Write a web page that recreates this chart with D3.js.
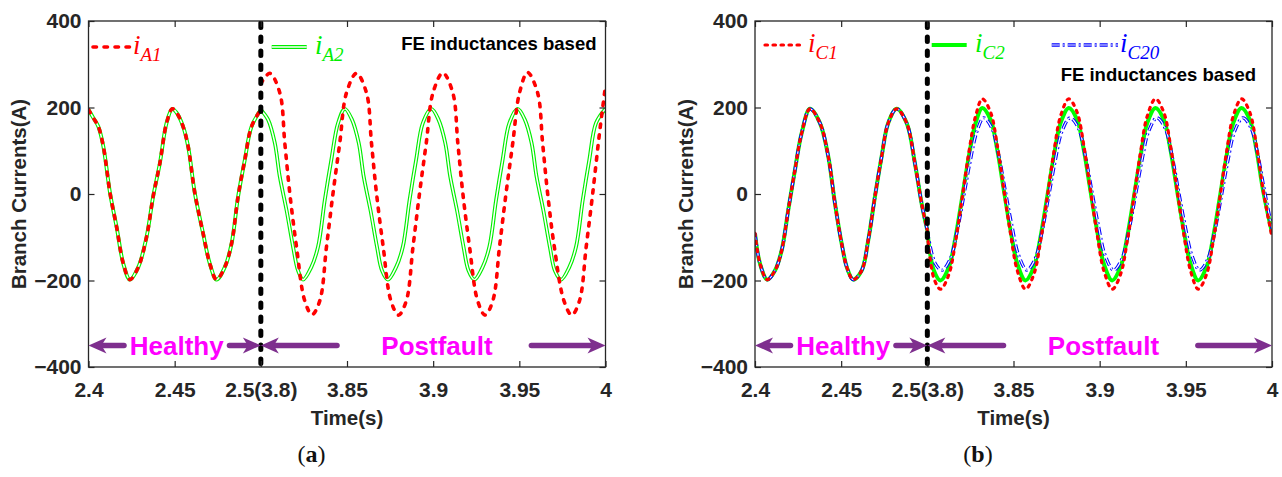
<!DOCTYPE html>
<html>
<head>
<meta charset="utf-8">
<script src="https://cdn.jsdelivr.net/npm/d3@7"></script>
<style>
  body { margin: 0; background: #fff; }
  svg { display: block; font-family: "Liberation Sans", Arial, sans-serif; }
</style>
</head>
<body>
<div id="app"></div>
<script>
// axis ticks
const xTicks = [2.4, 2.45, 2.5, 3.85, 3.9, 3.95, 4];
const yTicks = [-400, -200, 0, 200, 400];
const timeBreaks = [2.4, 2.5, 3.8, 4.0];

// panel (a): healthy part is shared by iA1 and iA2
const healthyA = [[2.4,195],[2.4028,176],[2.4057,156],[2.4086,110],[2.4125,2],[2.4163,-76],[2.4202,-161],[2.424,-198],
  [2.4289,-169],[2.4337,-99],[2.4375,-6],[2.4414,71],[2.4453,164],[2.4486,197],[2.4511,188],[2.4549,156],[2.4578,110],
  [2.4617,2],[2.4665,-91],[2.4704,-161],[2.4743,-198],[2.4791,-169],[2.483,-115],[2.4868,-6],[2.4907,79],[2.4946,156],[2.5,195]];

const faultA1 = [[3.8,255],[3.8052,279],[3.811,234],[3.8139,118],[3.8168,2],[3.8207,-122],[3.8255,-247],[3.8297,-279],
  [3.8342,-247],[3.8381,-122],[3.8419,2],[3.8458,118],[3.8497,234],[3.8555,279],
  [3.8613,234],[3.8642,118],[3.8671,2],[3.871,-122],[3.8755,-247],[3.8799,-280],[3.8844,-247],[3.8883,-122],[3.8921,2],
  [3.896,118],[3.8999,234],[3.9056,280],
  [3.9114,234],[3.9143,118],[3.9172,2],[3.9211,-122],[3.9258,-247],[3.9301,-280],[3.9346,-247],[3.9385,-122],[3.9423,2],
  [3.9462,118],[3.9501,234],[3.9548,281],
  [3.9606,234],[3.9635,118],[3.9664,2],[3.9703,-122],[3.9759,-247],[3.9804,-280],[3.9849,-247],[3.9888,-122],[3.9926,2],
  [3.9965,140],[4.0,250]];

const faultA2 = [[3.8,195],[3.8042,172],[3.8081,118],[3.811,40],[3.8149,-37],[3.8187,-122],[3.8216,-177],[3.8245,-198],
  [3.8293,-169],[3.8332,-122],[3.8371,-14],[3.8409,79],[3.8448,164],[3.8487,197],
  [3.8529,172],[3.8568,118],[3.8597,40],[3.8636,-37],[3.8674,-122],[3.8703,-177],[3.8737,-198],[3.8785,-169],[3.8824,-122],
  [3.8863,-14],[3.8901,79],[3.894,164],[3.8989,197],
  [3.9031,172],[3.907,118],[3.9099,40],[3.9138,-37],[3.9176,-122],[3.9205,-177],[3.9239,-198],[3.9287,-169],[3.9326,-122],
  [3.9365,-14],[3.9403,79],[3.9442,164],[3.949,197],
  [3.9532,172],[3.9571,118],[3.96,40],[3.9639,-37],[3.9677,-122],[3.9706,-177],[3.9742,-198],[3.979,-169],[3.9829,-122],
  [3.9868,-14],[3.9906,79],[3.9945,164],[4.0,197]];

// panel (b): healthy part is shared by iC1, iC2 and iC20
const healthyB = [[2.4,-91],[2.4029,-161],[2.4071,-198],[2.4116,-177],[2.4155,-130],[2.4193,-37],[2.4232,56],[2.4271,141],
  [2.4319,197],[2.4377,164],[2.4425,87],[2.4464,-22],[2.4503,-115],[2.4535,-172],[2.457,-198],[2.4619,-177],[2.4657,-107],
  [2.4696,-6],[2.4735,87],[2.4773,164],[2.4822,197],[2.488,164],[2.4928,71],[2.4967,-22],[2.5,-84]];

const faultC1 = [[3.8,-92],[3.8038,-195],[3.8077,-220],[3.8125,-186],[3.8164,-109],[3.8203,-7],[3.8241,96],[3.828,180],
  [3.8319,220],[3.8367,189],[3.8406,112],[3.8444,10],[3.8483,-92],[3.8522,-177],[3.857,-220],
  [3.8618,-186],[3.8657,-109],[3.8696,-7],[3.8734,96],[3.8773,180],[3.8821,220],[3.8869,189],[3.8908,112],[3.8946,10],
  [3.8985,-92],[3.9024,-177],[3.9073,-220],
  [3.9121,-186],[3.916,-109],[3.9199,-7],[3.9237,96],[3.9276,180],[3.9324,220],[3.9372,189],[3.9411,112],[3.9449,10],
  [3.9488,-92],[3.9527,-177],[3.9572,-220],
  [3.962,-186],[3.9659,-109],[3.9698,-7],[3.9736,96],[3.9775,180],[3.9823,220],[3.9871,189],[3.991,112],[3.9948,10],[4.0,-100]];

const faultC2 = [[3.8,-84],[3.8038,-177],[3.8077,-200],[3.8125,-169],[3.8164,-99],[3.8203,-6],[3.8241,87],[3.828,164],
  [3.8319,199],[3.8367,172],[3.8406,102],[3.8444,9],[3.8483,-84],[3.8522,-161],[3.857,-200],
  [3.8618,-169],[3.8657,-99],[3.8696,-6],[3.8734,87],[3.8773,164],[3.8821,199],[3.8869,172],[3.8908,102],[3.8946,9],
  [3.8985,-84],[3.9024,-161],[3.9073,-200],
  [3.9121,-169],[3.916,-99],[3.9199,-6],[3.9237,87],[3.9276,164],[3.9324,199],[3.9372,172],[3.9411,102],[3.9449,9],
  [3.9488,-84],[3.9527,-161],[3.9572,-200],
  [3.962,-169],[3.9659,-99],[3.9698,-6],[3.9736,87],[3.9775,164],[3.9823,199],[3.9871,172],[3.991,102],[3.9948,9],[4.0,-90]];

const faultC20 = [[3.8,-85],[3.8045,-160],[3.8085,-176],[3.8133,-150],[3.8172,-88],[3.8211,-5],[3.8249,77],[3.8288,145],
  [3.8327,176],[3.8375,152],[3.8414,90],[3.8452,8],[3.8491,-74],[3.853,-142],[3.8578,-176],
  [3.8626,-150],[3.8665,-88],[3.8704,-5],[3.8742,77],[3.8781,145],[3.8829,176],[3.8877,152],[3.8916,90],[3.8954,8],
  [3.8993,-74],[3.9032,-142],[3.9081,-176],
  [3.9129,-150],[3.9168,-88],[3.9207,-5],[3.9245,77],[3.9284,145],[3.9332,176],[3.938,152],[3.9419,90],[3.9457,8],
  [3.9496,-74],[3.9535,-142],[3.958,-176],
  [3.9628,-150],[3.9667,-88],[3.9706,-5],[3.9744,77],[3.9783,145],[3.9831,176],[3.9879,152],[3.9918,90],[3.9956,8],[4.0,-80]];

// region arrows: [tip, shaft end], text position
const healthyArrows = [[2.4, 2.4206], [2.5, 2.4818]];
const faultArrows = [[3.8, 3.8442], [4.0, 3.957]];
const regionLabels = [["Healthy", 2.4512], ["Postfault", 3.9022]];
const arrowLevel = -350;

const width = 1282, height = 477;
const plotTop = 21, plotBottom = 367;

const styles = {
    redDash: [{ stroke: '#ff0000', w: 3.6, dash: '3.5,7.5', cap: 'round' }],
    greenDouble: [{ stroke: '#00ee00', w: 3.8 }, { stroke: '#ffffff', w: 1.5 }],
    redDot: [{ stroke: '#ff0000', w: 3.2, dash: '2.5,5.5', cap: 'round' }],
    greenSolid: [{ stroke: '#00ff00', w: 4 }],
    blueDashDot: [{ stroke: '#0000ff', w: 3.3, dash: '8,3,2,3' }, { stroke: '#ffffff', w: 1.2, dash: '8,3,2,3' }]
};

const panels = [
    {
        left: 88.5, right: 605.5, caption: 'a',
        series: [
            { parts: [healthyA, faultA2], style: 'greenDouble' },
            { parts: [healthyA, faultA1], style: 'redDash' }
        ],
        legend: [
            { x1: 4.5, x2: 41.5, tx: 44.5, style: 'redDash', sub: 'A1', color: '#ff0000' },
            { x1: 183.2, x2: 218.2, tx: 226.5, style: 'greenDouble', sub: 'A2', color: '#00ee00' }
        ],
        legendY: 47, noteX: 9, noteY: 50
    },
    {
        left: 755, right: 1272, caption: 'b',
        series: [
            { parts: [healthyB, faultC2], style: 'greenSolid' },
            { parts: [healthyB, faultC20], style: 'blueDashDot' },
            { parts: [healthyB, faultC1], style: 'redDot' }
        ],
        legend: [
            { x1: 10, x2: 46.7, tx: 53, style: 'redDot', sub: 'C1', color: '#ff0000' },
            { x1: 176.7, x2: 211.7, tx: 220, style: 'greenSolid', sub: 'C2', color: '#00ee00' },
            { x1: 296.7, x2: 363, tx: 365, style: 'blueDashDot', sub: 'C20', color: '#0000ff' }
        ],
        legendY: 45, noteX: 16, noteY: 81
    }
];

const svg = d3.select('#app')
    .append('svg')
    .attr('width', width)
    .attr('height', height);

svg.append('rect').attr('width', width).attr('height', height).attr('fill', '#fff');

const applyStyle = (sel, layer) => {
    sel.attr('fill', 'none')
        .attr('stroke', layer.stroke)
        .attr('stroke-width', layer.w)
        .attr('stroke-dasharray', layer.dash || null)
        .attr('stroke-linecap', layer.cap || 'butt')
        .attr('stroke-linejoin', 'round');
};

const drawPanel = (p, idx) => {
    const g = svg.append('g');
    const mid = p.left + (p.right - p.left) / 3;

    const x = d3.scaleLinear()
        .domain(timeBreaks)
        .range([p.left, mid, mid, p.right]);

    const y = d3.scaleLinear()
        .domain([-400, 400])
        .range([plotBottom, plotTop]);

    const clipId = 'clip' + idx;
    svg.append('clipPath').attr('id', clipId)
        .append('rect')
        .attr('x', p.left).attr('y', plotTop)
        .attr('width', p.right - p.left).attr('height', plotBottom - plotTop);

    const line = d3.line()
        .x(d => x(d[0]))
        .y(d => y(d[1]))
        .curve(d3.curveCatmullRom.alpha(0.5));

    const plot = g.append('g').attr('clip-path', `url(#${clipId})`);

    p.series.forEach(s => {
        styles[s.style].forEach(layer => {
            s.parts.forEach(part => {
                plot.append('path')
                    .attr('d', line(part))
                    .call(applyStyle, layer);
            });
        });
    });

    // fault instant
    plot.append('line')
        .attr('x1', x(2.5)).attr('x2', x(2.5))
        .attr('y1', plotTop + 2).attr('y2', plotBottom - 2)
        .attr('stroke', '#000')
        .attr('stroke-width', 5)
        .attr('stroke-dasharray', '4.5,9.5')
        .attr('stroke-linecap', 'round');

    // axes
    const axisColor = '#262626';
    const fmt = d => d === 2.5 ? '2.5(3.8)' : String(d);

    const styleAxis = a => {
        a.select('.domain').remove();
        a.selectAll('.tick line').attr('stroke', axisColor).attr('stroke-width', 1.2);
        a.selectAll('.tick text')
            .attr('fill', axisColor)
            .style('font-size', '21px')
            .style('font-weight', 'bold')
            .style('font-family', '"Liberation Sans", Arial, sans-serif');
    };

    g.append('g')
        .attr('transform', `translate(0,${plotBottom})`)
        .call(d3.axisBottom(x).tickValues(xTicks).tickFormat(fmt).tickSize(-6).tickSizeOuter(0).tickPadding(15))
        .call(styleAxis);

    g.append('g')
        .attr('transform', `translate(0,${plotTop})`)
        .call(d3.axisTop(x).tickValues(xTicks).tickFormat('').tickSize(-6).tickSizeOuter(0))
        .call(styleAxis);

    g.append('g')
        .attr('transform', `translate(${p.left},0)`)
        .call(d3.axisLeft(y).tickValues(yTicks).tickSize(-6).tickSizeOuter(0).tickPadding(7))
        .call(styleAxis);

    g.append('g')
        .attr('transform', `translate(${p.right},0)`)
        .call(d3.axisRight(y).tickValues(yTicks).tickFormat('').tickSize(-6).tickSizeOuter(0))
        .call(styleAxis);

    g.append('rect')
        .attr('x', p.left).attr('y', plotTop)
        .attr('width', p.right - p.left).attr('height', plotBottom - plotTop)
        .attr('fill', 'none')
        .attr('stroke', axisColor)
        .attr('stroke-width', 1.3);

    // axis titles
    g.append('text')
        .attr('x', (p.left + p.right) / 2)
        .attr('y', 425)
        .attr('text-anchor', 'middle')
        .attr('fill', axisColor)
        .style('font-size', '20.5px')
        .style('font-weight', 'bold')
        .text('Time(s)');

    g.append('text')
        .attr('transform', `translate(${p.left - 62.5},${(plotTop + plotBottom) / 2}) rotate(-90)`)
        .attr('text-anchor', 'middle')
        .attr('fill', axisColor)
        .style('font-size', '20.5px')
        .style('font-weight', 'bold')
        .text('Branch Currents(A)');

    // legend
    p.legend.forEach(item => {
        styles[item.style].forEach(layer => {
            g.append('line')
                .attr('x1', p.left + item.x1).attr('x2', p.left + item.x2)
                .attr('y1', p.legendY).attr('y2', p.legendY)
                .call(applyStyle, layer);
        });
        const t = g.append('text')
            .attr('x', p.left + item.tx)
            .attr('y', p.legendY + 6.5)
            .attr('fill', item.color)
            .style('font-family', '"Liberation Serif", "DejaVu Serif", serif')
            .style('font-style', 'italic');
        t.append('tspan').text('i').style('font-size', '27px');
        t.append('tspan').text(item.sub).attr('dy', 7).style('font-size', '19px');
    });

    g.append('text')
        .attr('x', p.right - p.noteX)
        .attr('y', p.noteY)
        .attr('text-anchor', 'end')
        .attr('fill', '#000')
        .style('font-size', '18.5px')
        .style('font-weight', 'bold')
        .text('FE inductances based');

    // region arrows
    const arrowColor = '#7e2f8e';
    const ay = y(arrowLevel);
    healthyArrows.concat(faultArrows).forEach(([tip, end]) => {
        const tx = x(tip), ex = x(end);
        const dir = tx < ex ? -1 : 1;
        g.append('line')
            .attr('x1', ex).attr('x2', tx - dir * 12)
            .attr('y1', ay).attr('y2', ay)
            .attr('stroke', arrowColor)
            .attr('stroke-width', 5.5)
            .attr('stroke-linecap', 'round');
        const pts = [[tx, ay], [tx - dir * 18, ay - 8], [tx - dir * 13, ay], [tx - dir * 18, ay + 8]];
        g.append('path')
            .attr('d', 'M' + pts.map(q => q.join(',')).join('L') + 'Z')
            .attr('fill', arrowColor);
    });

    regionLabels.forEach(([label, t]) => {
        g.append('text')
            .attr('x', x(t))
            .attr('y', ay + 9.3)
            .attr('text-anchor', 'middle')
            .attr('fill', '#ff00ff')
            .style('font-size', '26px')
            .style('font-weight', 'bold')
            .text(label);
    });

    // caption
    const cap = g.append('text')
        .attr('x', (p.left + p.right) / 2 - 35.5)
        .attr('y', 462)
        .attr('text-anchor', 'middle')
        .attr('fill', '#111')
        .style('font-family', '"Liberation Serif", "DejaVu Serif", serif')
        .style('font-size', '24px');
    cap.append('tspan').text('(');
    cap.append('tspan').text(p.caption).style('font-weight', 'bold');
    cap.append('tspan').text(')');
};

panels.forEach(drawPanel);
</script>
</body>
</html>
